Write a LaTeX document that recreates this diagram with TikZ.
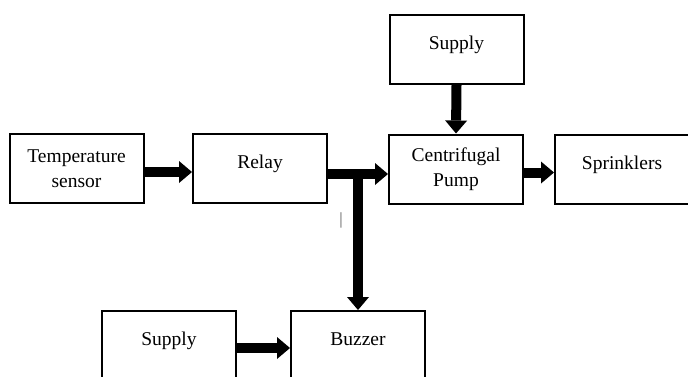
\documentclass[tikz,border=0pt]{standalone}
\usepackage{fontspec}
\setmainfont{Liberation Serif}
\usepackage{tikz}
\usetikzlibrary{arrows.meta}

\begin{document}
\begin{tikzpicture}[x=1pt,y=-1pt,
        block/.style={draw,line width=2pt,minimum width=134pt,minimum height=69pt,
            inner sep=0pt,align=center,font=\fontsize{19.5}{25}\selectfont},
        oneline/.style={block,text height=13pt,text depth=13pt},
        fat/.style={line width=10pt,-{Triangle[length=13pt,width=22pt,line width=0pt]}}]
    \useasboundingbox (0,0) rectangle (688,376);
    \clip (0,0) rectangle (688,376);
    % blocks
    \node[block] (temp) at (76.5,168.5) {Temperature\\sensor};
    \node[oneline] (relay) at (260,168.5) {Relay};
    \node[block] (pump) at (456,169) {Centrifugal\\Pump};
    \node[oneline] (supplytop) at (456.5,49.5) {Supply};
    \node[oneline] (sprink) at (622,169) {Sprinklers};
    \node[oneline] (supplybot) at (169,345.5) {Supply};
    \node[oneline] (buzzer) at (358,345.5) {Buzzer};
    \node[text=black!65,font=\fontsize{17}{17}\selectfont] (stray) at (341,220) {|};
    % arrows
    \coordinate (split) at (358,174);
    \draw[fat] ([yshift=-3.5pt]temp.east) -- ([yshift=-3.5pt]relay.west);
    \draw[fat] ([yshift=-5.5pt]relay.east) -- ([yshift=-5pt]pump.west);
    \draw[fat] (split) -- (buzzer.north);
    \draw[fat] (supplytop.south) -- (pump.north);
    \draw[fat] ([yshift=-3.5pt]pump.east) -- ([yshift=-3.5pt]sprink.west);
    \draw[fat] ([yshift=-2.5pt]supplybot.east) -- ([yshift=-2.5pt]buzzer.west);
\end{tikzpicture}
\end{document}
